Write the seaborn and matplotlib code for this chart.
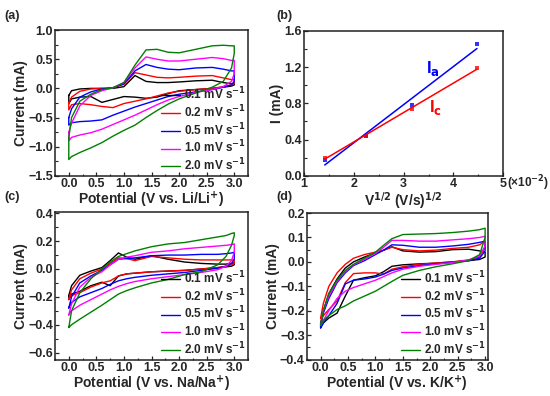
import numpy as np
import pandas as pd
import matplotlib
matplotlib.use("Agg")
import matplotlib.pyplot as plt
from matplotlib.ticker import MultipleLocator
import seaborn as sns

# scan rates and colours shared by the three CV panels
rate_labels = ["0.1 mV s$^{-1}$", "0.2 mV s$^{-1}$", "0.5 mV s$^{-1}$",
               "1.0 mV s$^{-1}$", "2.0 mV s$^{-1}$"]
rate_colors = ["#000000", "#ff0000", "#0000ff", "#ff00ff", "#008000"]

# (a) Li: potentials and upper / lower branch currents (mA), one row per rate
E_a = [0.0, 0.05, 0.2, 0.4, 0.6, 0.8, 1.0, 1.2, 1.4, 1.6, 1.8, 2.0, 2.3, 2.6, 2.8, 2.95, 3.0]
a_upper = [
    [-0.12, -0.04, -0.01, 0.0, 0.0, 0.0, 0.03, 0.22, 0.12, 0.10, 0.10, 0.11, 0.13, 0.14, 0.10, 0.08, 0.09],
    [-0.25, -0.15, -0.05, -0.01, 0.0, 0.01, 0.07, 0.27, 0.23, 0.19, 0.18, 0.19, 0.21, 0.22, 0.18, 0.15, 0.15],
    [-0.50, -0.35, -0.15, -0.06, -0.01, 0.01, 0.08, 0.30, 0.41, 0.36, 0.33, 0.32, 0.35, 0.36, 0.33, 0.30, 0.30],
    [-0.75, -0.60, -0.30, -0.12, -0.04, 0.01, 0.10, 0.35, 0.54, 0.50, 0.47, 0.47, 0.50, 0.53, 0.51, 0.48, 0.48],
    [-0.85, -0.50, -0.22, -0.10, -0.02, 0.01, 0.10, 0.40, 0.66, 0.67, 0.62, 0.61, 0.67, 0.73, 0.74, 0.73, 0.73],
]
a_lower = [
    [-0.26, -0.18, -0.15, -0.14, -0.24, -0.19, -0.14, -0.15, -0.17, -0.15, -0.09, -0.04, -0.02, 0.0, 0.02, 0.04, 0.06],
    [-0.37, -0.28, -0.26, -0.28, -0.31, -0.33, -0.26, -0.22, -0.18, -0.13, -0.08, -0.05, -0.02, 0.0, 0.03, 0.06, 0.08],
    [-0.63, -0.59, -0.57, -0.56, -0.54, -0.46, -0.39, -0.32, -0.26, -0.20, -0.14, -0.10, -0.06, -0.02, 0.02, 0.06, 0.12],
    [-0.90, -0.84, -0.80, -0.76, -0.70, -0.62, -0.54, -0.46, -0.37, -0.28, -0.20, -0.14, -0.07, -0.02, 0.03, 0.12, 0.25],
    [-1.22, -1.17, -1.10, -1.02, -0.93, -0.82, -0.72, -0.63, -0.50, -0.38, -0.27, -0.18, -0.08, 0.02, 0.12, 0.35, 0.60],
]

# (b) peak current vs square root of scan rate
sqrt_rate = [1.414, 2.236, 3.162, 4.472]
Ia = [0.17, 0.44, 0.78, 1.455]
Ic = [0.20, 0.44, 0.735, 1.19]

# (c) Na
E_c = [0.0, 0.05, 0.2, 0.4, 0.6, 0.75, 0.9, 1.05, 1.2, 1.5, 1.8, 2.1, 2.4, 2.7, 2.85, 2.95, 3.0]
c_upper = [
    [-0.19, -0.12, -0.045, -0.015, 0.01, 0.06, 0.115, 0.085, 0.07, 0.095, 0.07, 0.05, 0.04, 0.035, 0.035, 0.04, 0.045],
    [-0.22, -0.15, -0.07, -0.03, 0.0, 0.04, 0.08, 0.075, 0.06, 0.09, 0.08, 0.07, 0.065, 0.065, 0.065, 0.065, 0.065],
    [-0.28, -0.20, -0.10, -0.05, -0.01, 0.03, 0.07, 0.075, 0.08, 0.095, 0.10, 0.10, 0.105, 0.105, 0.11, 0.115, 0.12],
    [-0.33, -0.25, -0.13, -0.06, -0.02, 0.03, 0.07, 0.085, 0.095, 0.12, 0.13, 0.145, 0.155, 0.165, 0.17, 0.175, 0.18],
    [-0.42, -0.30, -0.17, -0.07, 0.0, 0.05, 0.09, 0.11, 0.13, 0.16, 0.18, 0.19, 0.21, 0.23, 0.24, 0.255, 0.26],
]
c_lower = [
    [-0.21, -0.18, -0.16, -0.12, -0.095, -0.12, -0.05, -0.035, -0.03, -0.02, -0.015, -0.01, 0.0, 0.01, 0.015, 0.02, 0.03],
    [-0.22, -0.19, -0.17, -0.13, -0.10, -0.085, -0.05, -0.035, -0.03, -0.02, -0.015, -0.01, 0.0, 0.01, 0.02, 0.03, 0.04],
    [-0.28, -0.24, -0.20, -0.17, -0.14, -0.11, -0.085, -0.07, -0.06, -0.045, -0.035, -0.025, -0.01, 0.005, 0.02, 0.04, 0.07],
    [-0.33, -0.30, -0.26, -0.22, -0.18, -0.15, -0.125, -0.105, -0.09, -0.07, -0.055, -0.04, -0.025, -0.005, 0.02, 0.06, 0.12],
    [-0.42, -0.40, -0.36, -0.31, -0.26, -0.22, -0.18, -0.155, -0.135, -0.10, -0.075, -0.04, -0.02, 0.03, 0.09, 0.17, 0.24],
]

# (d) K
E_d = [0.0, 0.05, 0.15, 0.3, 0.45, 0.6, 0.8, 1.0, 1.15, 1.3, 1.5, 1.8, 2.1, 2.4, 2.7, 2.9, 3.0]
d_upper = [
    [-0.25, -0.20, -0.13, -0.07, -0.025, 0.0, 0.02, 0.037, 0.048, 0.062, 0.045, 0.04, 0.042, 0.05, 0.052, 0.045, 0.04],
    [-0.23, -0.17, -0.10, -0.045, -0.01, 0.015, 0.03, 0.04, 0.048, 0.06, 0.05, 0.045, 0.048, 0.055, 0.06, 0.07, 0.085],
    [-0.27, -0.21, -0.15, -0.085, -0.045, -0.015, 0.005, 0.03, 0.048, 0.07, 0.068, 0.06, 0.06, 0.065, 0.072, 0.08, 0.085],
    [-0.26, -0.20, -0.14, -0.08, -0.04, -0.012, 0.01, 0.035, 0.06, 0.088, 0.088, 0.085, 0.085, 0.09, 0.095, 0.10, 0.105],
    [-0.26, -0.20, -0.13, -0.075, -0.035, -0.01, 0.015, 0.04, 0.068, 0.095, 0.112, 0.114, 0.116, 0.12, 0.126, 0.132, 0.138],
]
d_lower = [
    [-0.27, -0.25, -0.23, -0.21, -0.14, -0.075, -0.065, -0.057, -0.04, -0.018, -0.012, -0.008, -0.005, 0.0, 0.005, 0.01, 0.02],
    [-0.23, -0.22, -0.195, -0.16, -0.085, -0.048, -0.045, -0.045, -0.05, -0.03, -0.02, -0.01, -0.005, 0.0, 0.008, 0.02, 0.06],
    [-0.27, -0.25, -0.22, -0.17, -0.09, -0.075, -0.07, -0.062, -0.05, -0.035, -0.025, -0.015, -0.008, -0.002, 0.005, 0.015, 0.045],
    [-0.26, -0.24, -0.20, -0.15, -0.12, -0.105, -0.09, -0.075, -0.06, -0.045, -0.03, -0.018, -0.01, -0.003, 0.008, 0.025, 0.065],
    [-0.26, -0.24, -0.22, -0.195, -0.18, -0.16, -0.14, -0.12, -0.10, -0.08, -0.055, -0.035, -0.02, -0.008, 0.005, 0.03, 0.10],
]

sns.set_style("ticks")
plt.rcParams["font.family"] = ["Liberation Sans", "DejaVu Sans"]
plt.rcParams["font.weight"] = "bold"
plt.rcParams["axes.labelweight"] = "bold"
plt.rcParams["font.size"] = 9
plt.rcParams["mathtext.default"] = "bf"


def cv_frame(E, upper, lower):
    parts = []
    for rate, up, dn in zip(rate_labels, upper, lower):
        e = list(E) + list(E[::-1]) + [E[0]]
        cur = list(up) + list(dn[::-1]) + [up[0]]
        parts.append(pd.DataFrame({"E": e, "I": cur, "rate": rate}))
    return pd.concat(parts, ignore_index=True)


def style_axes(ax, xmaj, xmin, ymaj, ymin):
    ax.xaxis.set_major_locator(MultipleLocator(xmaj))
    ax.xaxis.set_minor_locator(MultipleLocator(xmin))
    ax.yaxis.set_major_locator(MultipleLocator(ymaj))
    ax.yaxis.set_minor_locator(MultipleLocator(ymin))
    ax.tick_params(which="both", direction="in", labelsize=9, pad=1.5)
    ax.tick_params(which="major", length=3, width=0.9)
    ax.tick_params(which="minor", length=1.8, width=0.8)
    for s in ax.spines.values():
        s.set_linewidth(1.1)
        s.set_color("#222222")
    for lab in ax.get_xticklabels() + ax.get_yticklabels():
        lab.set_fontweight("bold")


def cv_panel(ax, E, upper, lower, xlabel, ylim, ymaj, ymin, xlim=(-0.25, 3.25)):
    df = cv_frame(E, upper, lower)
    sns.lineplot(data=df, x="E", y="I", hue="rate", palette=rate_colors,
                 sort=False, estimator=None, linewidth=1.0, ax=ax)
    handles, labels = ax.get_legend_handles_labels()
    ax.legend(handles, labels, loc="lower right", frameon=False, fontsize=8.5,
              handlelength=1.6, handletextpad=0.3, labelspacing=0.1,
              borderaxespad=0.1, borderpad=0.1)
    ax.set_xlim(*xlim)
    ax.set_ylim(*ylim)
    ax.set_xlabel(xlabel, fontsize=10, labelpad=0)
    ax.set_ylabel("Current (mA)", fontsize=10, labelpad=0)
    style_axes(ax, 0.5, 0.25, ymaj, ymin)


fig = plt.figure(figsize=(5.5, 3.96), dpi=100)
ax_a = fig.add_axes([0.100, 0.556, 0.351, 0.368])
ax_b = fig.add_axes([0.553, 0.556, 0.362, 0.366])
ax_c = fig.add_axes([0.100, 0.092, 0.351, 0.373])
ax_d = fig.add_axes([0.558, 0.092, 0.329, 0.370])

cv_panel(ax_a, E_a, a_upper, a_lower, "Potential (V vs. Li/Li$^{+}$)",
         (-1.5, 1.0), 0.5, 0.25)
cv_panel(ax_c, E_c, c_upper, c_lower, "Potential (V vs. Na/Na$^{+}$)",
         (-0.65, 0.41), 0.2, 0.1)
cv_panel(ax_d, E_d, d_upper, d_lower, "Potential (V vs. K/K$^{+}$)",
         (-0.4, 0.2), 0.1, 0.05, xlim=(-0.25, 3.05))

# (b) linear fits of peak current
for vals, col in [(Ia, "#0000ff"), (Ic, "#ff0000")]:
    sns.regplot(x=np.array(sqrt_rate), y=np.array(vals), ci=None, truncate=True,
                marker="s", color=col, ax=ax_b,
                scatter_kws={"s": 9, "linewidths": 0},
                line_kws={"linewidth": 1.1})
ax_b.set_xlim(1, 5)
ax_b.set_ylim(0, 1.6)
ax_b.set_xlabel("V$^{1/2}$ (V/s)$^{1/2}$", fontsize=10, labelpad=0)
ax_b.set_ylabel("I (mA)", fontsize=10, labelpad=0)
style_axes(ax_b, 1, 0.5, 0.4, 0.2)
ax_b.annotate("(×10$^{-2}$)", xy=(5, 0), xycoords="data", xytext=(2.5, -8.2),
              textcoords="offset points", ha="left", va="baseline",
              fontsize=8.5, fontweight="bold", annotation_clip=False)
ax_b.text(3.45, 1.14, "I$_{a}$", color="#0000ff", fontsize=12, fontweight="bold")
ax_b.text(3.5, 0.70, "I$_{c}$", color="#ff0000", fontsize=12, fontweight="bold")

for lab, x, y in [("(a)", 0.008, 0.975), ("(b)", 0.503, 0.975),
                  ("(c)", 0.008, 0.518), ("(d)", 0.503, 0.518)]:
    fig.text(x, y, lab, fontsize=9, fontweight="bold", va="top")

fig.savefig("out.png", dpi=100)
